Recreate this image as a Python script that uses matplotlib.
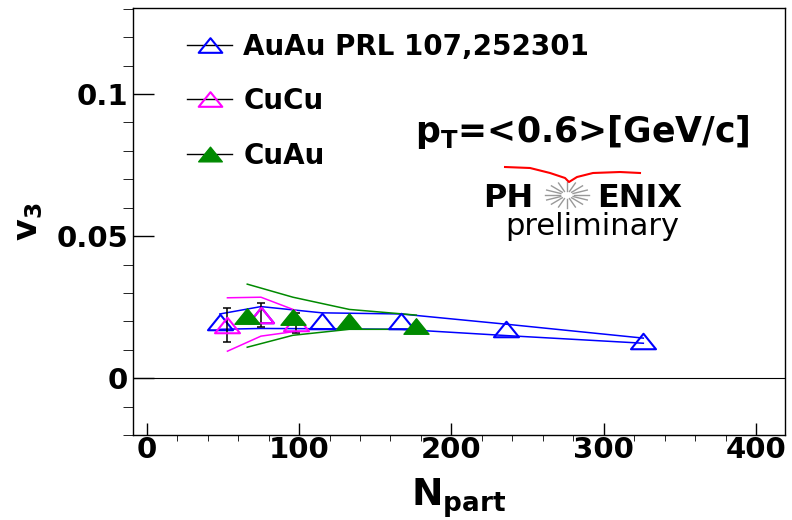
import numpy as np
import matplotlib
matplotlib.use("Agg")
import matplotlib.pyplot as plt
from matplotlib.path import Path
from matplotlib.lines import Line2D
from matplotlib.ticker import MultipleLocator

plt.rcParams['font.family'] = ['DejaVu Sans']
plt.rcParams['font.weight'] = 'bold'
plt.rcParams['mathtext.default'] = 'bf'

# v3 vs Npart, pT = <0.6> GeV/c
auau_npart = [48, 75, 115, 167, 236, 326]
auau_v3 = [0.0197, 0.0224, 0.0201, 0.0201, 0.0173, 0.0130]
auau_sys_hi = [0.0226, 0.0252, 0.0230, 0.0226, 0.0190, 0.0141]
auau_sys_lo = [0.0172, 0.0175, 0.0174, 0.0172, 0.0150, 0.0123]

cucu_npart = [53, 75, 98]
cucu_v3 = [0.0188, 0.0222, 0.0194]
cucu_err = [0.0059, 0.0042, 0.0035]
cucu_sys_hi = [0.0283, 0.0285, 0.0238]
cucu_sys_lo = [0.0095, 0.0148, 0.0165]

cuau_npart = [66, 96, 133, 177]
cuau_v3 = [0.0218, 0.0215, 0.0201, 0.0183]
cuau_sys_hi = [0.0331, 0.0285, 0.0242, 0.0222]
cuau_sys_lo = [0.0109, 0.0151, 0.0172, 0.0172]

labels = ['AuAu PRL 107,252301', 'CuCu', 'CuAu']
xticks = [0, 100, 200, 300, 400]
yticks = [0, 0.05, 0.1]
ytick_labels = ['0', '0.05', '0.1']

blue = '#0000ff'
magenta = '#ff00ff'
green = '#008a00'

# wide triangle marker
tri = Path([(-1, -0.62), (1, -0.62), (0, 0.62), (-1, -0.62)],
           [Path.MOVETO, Path.LINETO, Path.LINETO, Path.CLOSEPOLY])

fig = plt.figure(figsize=(7.92, 5.2), dpi=100)
ax = fig.add_axes([133 / 792, 85 / 520, 652 / 792, 427 / 520])

ax.axhline(0, color='black', lw=0.8)

# systematic bands as upper/lower lines
ax.plot(auau_npart, auau_sys_hi, color=blue, lw=1.1)
ax.plot(auau_npart, auau_sys_lo, color=blue, lw=1.1)
ax.plot(cucu_npart, cucu_sys_hi, color=magenta, lw=1.1)
ax.plot(cucu_npart, cucu_sys_lo, color=magenta, lw=1.1)
ax.plot(cuau_npart, cuau_sys_hi, color=green, lw=1.1)
ax.plot(cuau_npart, cuau_sys_lo, color=green, lw=1.1)

ax.plot(auau_npart, auau_v3, ls='none', marker=tri, ms=18, mfc='none', mec=blue, mew=1.5)
ax.errorbar(cucu_npart, cucu_v3, yerr=cucu_err, fmt='none', ecolor='black',
            elinewidth=1.1, capsize=3, capthick=1.1)
ax.plot(cucu_npart, cucu_v3, ls='none', marker=tri, ms=18, mfc='none', mec=magenta, mew=1.5)
ax.plot(cuau_npart, cuau_v3, ls='none', marker=tri, ms=18, mfc=green, mec=green, mew=1.0)

ax.set_xlim(-9, 419)
ax.set_ylim(-0.02, 0.1303)
ax.set_xticks(xticks)
ax.set_yticks(yticks, ytick_labels)
ax.xaxis.set_minor_locator(MultipleLocator(20))
ax.yaxis.set_minor_locator(MultipleLocator(0.01))
ax.tick_params(axis='both', direction='in', labelsize=21, width=1)
ax.tick_params(axis='x', which='major', length=8.6, pad=1)
ax.tick_params(axis='x', which='minor', length=4.3)
ax.tick_params(axis='y', which='major', length=15, pad=3.6)
ax.tick_params(axis='y', which='minor', length=7.2)
for s in ax.spines.values():
    s.set_linewidth(1.0)

ax.set_xlabel('$N_{part}$', fontsize=27)
ax.xaxis.set_label_coords(0.5, -0.096)
ax.set_ylabel('$v_3$', fontsize=24)
ax.yaxis.set_label_coords(-0.135, 0.5)

handles = [
    Line2D([], [], color='black', lw=1, marker=tri, ms=17, mfc='none', mec=blue, mew=1.5),
    Line2D([], [], color='black', lw=1, marker=tri, ms=17, mfc='none', mec=magenta, mew=1.5),
    Line2D([], [], color='black', lw=1, marker=tri, ms=17, mfc=green, mec=green, mew=1.0),
]
ax.legend(handles, labels, loc='upper left', bbox_to_anchor=(0.083, 0.942),
          frameon=False, prop={'weight': 'bold', 'size': 20}, handlelength=1.62,
          handletextpad=0.4, labelspacing=0.95, borderpad=0, borderaxespad=0)

ax.text(0.4325, 0.686, '$p_T$=<0.6>[GeV/c]', transform=ax.transAxes,
        fontsize=25, va='baseline')

# PHENIX preliminary logo
ax.text(0.6135, 0.534, 'PH', transform=ax.transAxes, fontsize=23, ha='right', va='baseline')
ax.text(0.7117, 0.534, 'ENIX', transform=ax.transAxes, fontsize=23, ha='left', va='baseline')
ax.text(0.704, 0.468, 'preliminary', transform=ax.transAxes, fontsize=22,
        fontweight='normal', ha='center', va='baseline')

cx, cy = 0.6656, 0.562
rx, ry = 0.0337, 0.0304
for a in np.linspace(0, 2 * np.pi, 16, endpoint=False):
    ax.plot([cx + 0.3 * rx * np.cos(a), cx + rx * np.cos(a)],
            [cy + 0.3 * ry * np.sin(a), cy + ry * np.sin(a)],
            color='#999999', lw=1, transform=ax.transAxes)

arc_x = [0.5706, 0.6089, 0.6396, 0.6626, 0.6687, 0.681, 0.7055, 0.7469, 0.7776]
arc_y = [0.6276, 0.6253, 0.6136, 0.6019, 0.5925, 0.6042, 0.6136, 0.6159, 0.6136]
ax.plot(arc_x, arc_y, color='red', lw=1.5, transform=ax.transAxes)

fig.savefig('out.png', dpi=100)
